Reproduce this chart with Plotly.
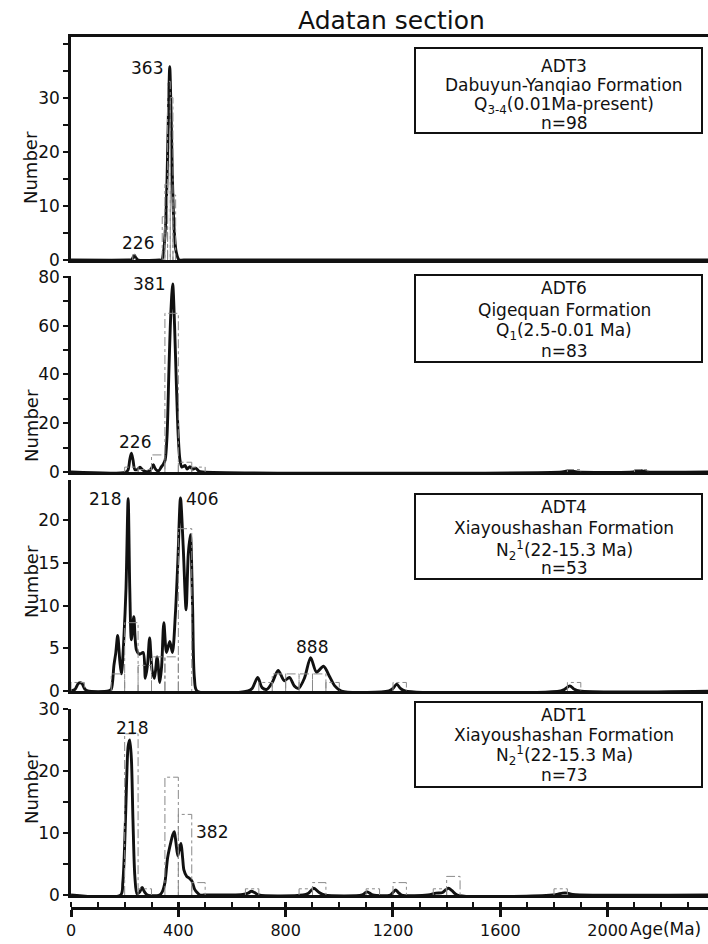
import plotly.graph_objects as go

# ---------------- data ----------------
X_MAX = 2374

# ADT3
adt3_age = [0, 215, 226, 231, 236, 241, 250, 330, 338, 345, 352, 358, 363, 368, 373, 378, 384, 392, 403, 420, 2400]
adt3_val = [0, 0, 0.05, 0.45, 0.9, 0.45, 0, 0, 0, 1.5, 6, 15, 27, 35.7, 27, 15, 6, 1.5, 0, 0, 0]
adt3_bin_left = [230, 340, 350, 360, 370, 380]
adt3_bin_count = [1, 8, 14, 33, 30, 12]
adt3_bin_width = 10

# ADT6
adt6_age = [0, 205, 213, 219, 225, 231, 238, 247, 257, 266,
            276, 290, 300, 307, 313, 320, 328, 336, 344, 351,
            358, 365, 372, 379, 386, 393, 400, 406, 413, 419,
            425, 433, 443, 453, 465, 477, 490,
            1830, 1845, 1858, 1871, 1886,
            2095, 2108, 2120, 2133, 2148, 2400]
adt6_val = [0, 0, 1, 5, 7.7, 5, 1, 1, 2, 1,
            0.3, 0.3, 1.5, 3, 1.5, 0.6, 0.6, 2, 3.2, 5,
            15, 42, 65, 77, 60, 35, 14, 5, 2, 2.3,
            2.7, 1.2, 2.2, 1.2, 1.6, 0.3, 0,
            0, 0.3, 0.6, 0.3, 0,
            0, 0.3, 0.6, 0.3, 0, 0]
adt6_bin_left = [200, 250, 300, 350, 400, 450, 1850, 2100]
adt6_bin_count = [2, 1, 7, 65, 4, 2, 1, 1]
adt6_bin_width = 50

# ADT4
adt4_age = [0, 15, 28, 40, 52, 62,
            140, 150, 160, 167, 174, 182, 188, 196, 205, 213,
            219, 225, 234, 244, 256, 269, 277, 285, 293, 302,
            311, 321, 331, 338, 346, 356, 368, 378, 389, 398,
            408, 418, 429, 437, 445, 453, 460, 470,
            660, 675, 696, 712, 730, 750, 772, 795, 814, 832,
            848, 870, 893, 915, 941, 965, 983, 1008,
            1185, 1200, 1214, 1228, 1245,
            1825, 1840, 1859, 1876, 1895, 2400]
adt4_val = [0, 0.2, 0.9, 0.9, 0.2, 0,
            0, 0.2, 3, 4.5, 6.5, 3.5, 2, 5.5, 12, 22.5,
            12, 6, 8.7, 4.8, 4.3, 4.5, 1.5, 3, 6.2, 2.5,
            1.5, 4, 1, 3, 8, 4.5, 5.8, 4.5, 9, 15,
            22.6, 17, 9.5, 16, 18.3, 10, 1.5, 0,
            0, 0.3, 1.6, 0.4, 0.2, 1.0, 2.4, 1.2, 1.6, 0.6,
            0.3, 1.5, 3.9, 2.2, 2.9, 1.6, 0.6, 0,
            0, 0.3, 0.8, 0.3, 0,
            0, 0.2, 0.6, 0.2, 0, 0]
adt4_bin_left = [0, 150, 200, 250, 300, 350, 400, 700, 750, 800, 850, 900, 950, 1200, 1850]
adt4_bin_count = [1, 2, 8, 3, 4, 4, 19, 1, 2, 2, 2, 2, 1, 1, 1]
adt4_bin_width = 50

# ADT1
adt1_age = [0, 185, 193, 200, 207, 213, 219, 225, 231, 238,
            246, 256, 265, 274, 285, 330, 340, 350, 360, 372,
            380, 385, 391, 398, 404, 410, 416, 421, 431, 441,
            450, 460, 470, 481, 495,
            600, 640, 660, 672, 684, 700,
            865, 885, 905, 925, 945,
            1085, 1095, 1104, 1113, 1125,
            1190, 1200, 1210, 1220, 1232,
            1330, 1360, 1385, 1395, 1407, 1420, 1440,
            1795, 1815, 1832, 1850, 1870, 2400]
adt1_val = [0, 0, 2, 8, 18, 24, 25, 22, 12, 3,
            0.2, 0.5, 1.2, 0.5, 0, 0, 0.5, 2, 6, 8.5,
            9.8, 10.2, 8.5, 6.3, 7.5, 8.3, 6, 4, 3, 2.7,
            2.3, 1, 0.4, 0, 0,
            0, 0.1, 0.3, 0.6, 0.4, 0,
            0, 0.3, 1.1, 0.4, 0,
            0, 0.3, 0.5, 0.3, 0,
            0, 0.4, 0.8, 0.4, 0,
            0, 0.3, 0.4, 0.8, 1.1, 0.7, 0,
            0, 0.15, 0.3, 0.3, 0.1, 0]
adt1_bin_left = [200, 250, 350, 400, 450, 650, 850, 900, 1100, 1200, 1350, 1400, 1800]
adt1_bin_count = [26, 1, 19, 13, 2, 1, 1, 2, 1, 2, 1, 3, 1]
adt1_bin_width = 50

x_tick_vals = [0, 400, 800, 1200, 1600, 2000]

panel_text = [
    ["ADT3", "Dabuyun-Yanqiao Formation", "Q<sub>3-4</sub>(0.01Ma-present)", "n=98"],
    ["ADT6", "Qigequan Formation", "Q<sub>1</sub>(2.5-0.01 Ma)", "n=83"],
    ["ADT4", "Xiayoushashan Formation", "N<sub>2</sub><sup>1</sup>(22-15.3 Ma)", "n=53"],
    ["ADT1", "Xiayoushashan Formation", "N<sub>2</sub><sup>1</sup>(22-15.3 Ma)", "n=73"],
]

# peak labels: (panel, text, age, value, anchor)
peak_labels = [
    (0, "363", 351, 35.4, "right"),
    (0, "226", 248, 3.2, "center"),
    (1, "381", 357, 77.0, "right"),
    (1, "226", 240, 12.3, "center"),
    (2, "218", 195, 22.5, "right"),
    (2, "406", 422, 22.5, "left"),
    (2, "888", 899, 5.2, "center"),
    (3, "218", 226, 27.0, "center"),
    (3, "382", 460, 10.2, "left"),
]

# ---------------- layout geometry ----------------
W, H = 708, 944
ML, MR, MT, MB = 71, 0, 37, 36
PW = W - ML - MR
PH = H - MT - MB


def fx(p):  # window pixel x -> paper fraction
    return (p - ML) / PW


def fy(p):  # window pixel y -> paper fraction
    return (H - MB - p) / PH


FONT = "DejaVu Sans"
BLACK = "#111111"

panel_px = [(260, 37), (472, 276), (691, 480), (895, 709)]
y_ranges = [[0, 41.2], [0, 80.3], [0, 24.7], [0, 30]]
y_tickvals = [list(range(0, 41, 5)), list(range(0, 81, 10)), list(range(0, 21, 5)), list(range(0, 31, 5))]
y_label_step = [10, 20, 5, 10]
y_label_max = [30, 80, 20, 30]
number_px = [168, 426, 582, 788]
box_px = [(48, 133), (275, 362), (494, 579), (702, 787)]
line_px = [[65.7, 85, 105, 123.3], [288.3, 310, 331.7, 350.7],
           [507.3, 528.3, 550, 568.3], [715, 735, 755.7, 775]]

curves = [(adt3_age, adt3_val), (adt6_age, adt6_val), (adt4_age, adt4_val), (adt1_age, adt1_val)]
hists = [(adt3_bin_left, adt3_bin_count, adt3_bin_width),
         (adt6_bin_left, adt6_bin_count, adt6_bin_width),
         (adt4_bin_left, adt4_bin_count, adt4_bin_width),
         (adt1_bin_left, adt1_bin_count, adt1_bin_width)]

fig = go.Figure()
layout = dict(
    width=W, height=H,
    margin=dict(l=ML, r=MR, t=MT, b=MB, pad=0),
    paper_bgcolor="white", plot_bgcolor="white",
    showlegend=False,
    font=dict(family=FONT, size=17, color=BLACK),
)
annotations = []
shapes = []

for i in range(4):
    n = "" if i == 0 else str(i + 1)
    xa = "x" + n
    ya = "y" + n
    zero_px, top_px = panel_px[i]
    ages, vals = curves[i]
    left, counts, w = hists[i]

    # histogram outline
    hx, hy = [], []
    for l, c in zip(left, counts):
        hx += [l, l, l + w, l + w, None]
        hy += [0, c, c, 0, None]

    fig.add_trace(go.Scatter(x=ages, y=vals, mode="lines", xaxis=xa, yaxis=ya,
                             line=dict(color=BLACK, width=2.9, shape="spline", smoothing=0.8),
                             hoverinfo="skip"))
    fig.add_trace(go.Scatter(x=hx, y=hy, mode="lines", xaxis=xa, yaxis=ya,
                             line=dict(color="#8a8a8a", width=1, dash="dashdot"),
                             hoverinfo="skip"))

    layout["xaxis" + n] = dict(
        domain=[0, 1], range=[0, X_MAX], anchor=ya,
        showline=True, linewidth=2.5, linecolor=BLACK, mirror=(i == 0),
        showticklabels=False, ticks="", showgrid=False, zeroline=False,
    )
    tv = y_tickvals[i]
    tt = [str(v) if (v % y_label_step[i] == 0 and v <= y_label_max[i]) else "" for v in tv]
    layout["yaxis" + n] = dict(
        domain=[fy(zero_px), fy(top_px)], range=y_ranges[i], anchor=xa,
        showline=True, linewidth=2.5, linecolor=BLACK,
        tickmode="array", tickvals=tv, ticktext=tt,
        ticks="outside", ticklen=5, tickwidth=2, tickcolor=BLACK,
        tickfont=dict(family=FONT, size=17, color=BLACK),
        showgrid=False, zeroline=False,
    )

    annotations.append(dict(text="Number", xref="paper", yref="paper",
                            x=fx(31), y=fy(number_px[i]), textangle=-90,
                            showarrow=False, xanchor="center", yanchor="middle",
                            font=dict(family=FONT, size=18, color=BLACK)))
    bt, bb = box_px[i]
    shapes.append(dict(type="rect", xref="paper", yref="paper",
                       x0=fx(415), x1=fx(702), y0=fy(bb), y1=fy(bt),
                       line=dict(color=BLACK, width=2), fillcolor="white", layer="above"))
    for txt, py in zip(panel_text[i], line_px[i]):
        annotations.append(dict(text=txt, xref="paper", yref="paper",
                                x=fx(564), y=fy(py), showarrow=False,
                                xanchor="center", yanchor="middle",
                                font=dict(family=FONT, size=17, color=BLACK)))

for (p, txt, age, val, anc) in peak_labels:
    n = "" if p == 0 else str(p + 1)
    annotations.append(dict(text=txt, xref="x" + n, yref="y" + n, x=age, y=val,
                            showarrow=False, xanchor=anc, yanchor="middle",
                            font=dict(family=FONT, size=17, color=BLACK)))

# bottom age axis (offset below the last panel), ticks crossing the line
layout["xaxis5"] = dict(
    overlaying="x4", anchor="free", position=0, range=[0, X_MAX], domain=[0, 1],
    showline=True, linewidth=2.5, linecolor=BLACK,
    tickmode="array", tickvals=x_tick_vals,
    ticks="outside", ticklen=7, tickwidth=2.5, tickcolor=BLACK,
    minor=dict(tickmode="linear", tick0=0, dtick=100, ticks="inside", ticklen=5,
               tickwidth=2, tickcolor=BLACK),
    tickfont=dict(family=FONT, size=16, color=BLACK),
    showgrid=False, zeroline=False,
)
layout["xaxis6"] = dict(
    overlaying="x4", anchor="free", position=0, range=[0, X_MAX], domain=[0, 1],
    showline=False, tickmode="array", tickvals=x_tick_vals,
    ticks="inside", ticklen=6, tickwidth=2.5, tickcolor=BLACK,
    showticklabels=False, showgrid=False, zeroline=False,
)
fig.add_trace(go.Scatter(x=[0], y=[0], xaxis="x5", yaxis="y4", mode="markers",
                         marker=dict(opacity=0), hoverinfo="skip"))
fig.add_trace(go.Scatter(x=[0], y=[0], xaxis="x6", yaxis="y4", mode="markers",
                         marker=dict(opacity=0), hoverinfo="skip"))

annotations.append(dict(text="Age(Ma)", xref="paper", yref="paper", x=fx(703), y=fy(929),
                        showarrow=False, xanchor="right", yanchor="middle",
                        font=dict(family=FONT, size=17, color=BLACK)))
annotations.append(dict(text="Adatan section", xref="paper", yref="paper", x=fx(391), y=fy(21),
                        showarrow=False, xanchor="center", yanchor="middle",
                        font=dict(family=FONT, size=25, color=BLACK)))

layout["annotations"] = annotations
layout["shapes"] = shapes
fig.update_layout(**layout)

# remove the default page margin so the 708x944 figure fills the window exactly
fig.write_html("out.html",
               config={"displayModeBar": False},
               post_script="document.body.style.margin='0';document.body.style.overflow='hidden';")
